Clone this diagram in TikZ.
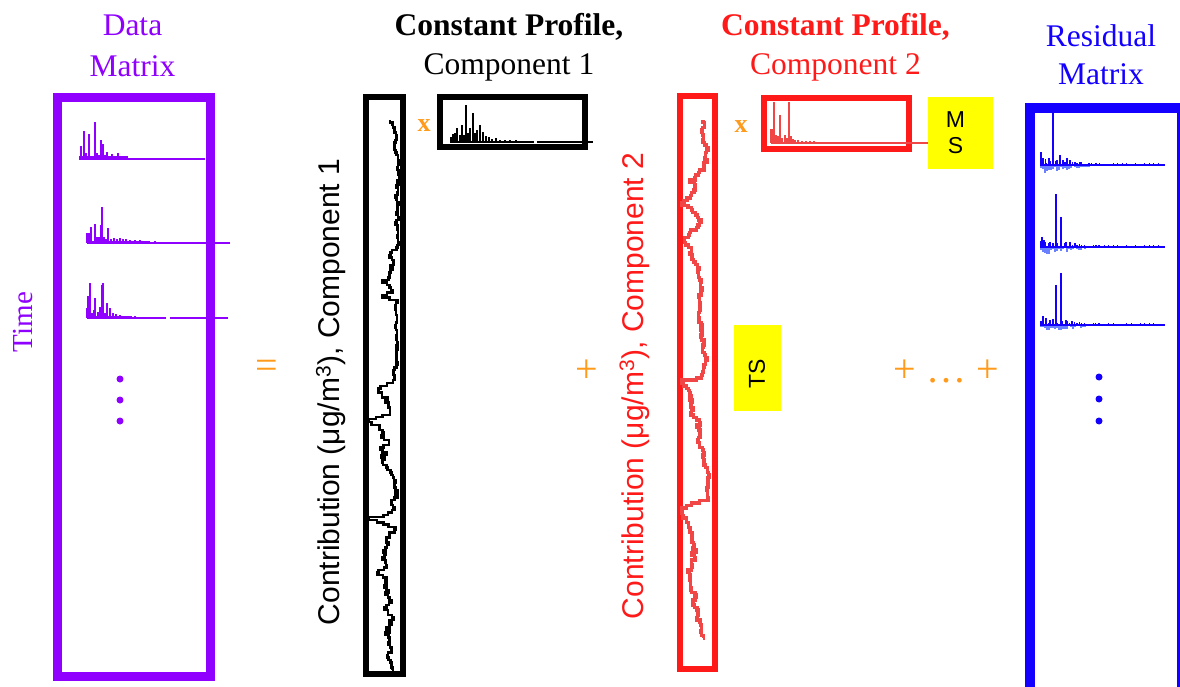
\documentclass[tikz,border=0pt]{standalone}
\usepackage{fontspec}
\setmainfont{Liberation Serif}
\newfontfamily\arialf{Liberation Sans}
\definecolor{vio}{HTML}{8F00FF}
\definecolor{org}{HTML}{FF9A1A}
\definecolor{rd}{HTML}{FF1A1A}
\definecolor{rdl}{HTML}{F04646}
\definecolor{bl}{HTML}{1400FF}
\definecolor{bll}{HTML}{6A80FF}
\definecolor{yel}{HTML}{FFFF00}
\newcommand\drawpeaks[3]{\foreach \u/\v in {#3}{\draw[#1] (\u,#2) -- (\u,\v);}}
% #1 style, #2 x0, #3 y0, #4 list y/x/amp, #5 xmin, #6 xmax
\newcommand\tscurve[6]{%
  \gdef\tspts{}\xdef\tsprevx{#2}\xdef\tsprevy{#3}\gdef\tsnoise{0}%
  \foreach \yy/\xx/\aa in {#4}{%
    \pgfmathtruncatemacro\tsn{max(1,round(abs(\yy-\tsprevy)/2.5))}%
    \foreach \kk in {1,...,\tsn}{%
      \pgfmathsetmacro\tsY{\tsprevy+(\yy-\tsprevy)*\kk/\tsn}%
      \pgfmathsetmacro\tsNN{0.55*\tsnoise+\aa*rand}%
      \xdef\tsnoise{\tsNN}%
      \pgfmathsetmacro\tsX{max(#5,min(#6,\tsprevx+(\xx-\tsprevx)*\kk/\tsn+\tsNN))}%
      \xdef\tspts{\tspts |- (\tsX,\tsY)}%
    }%
    \xdef\tsprevx{\xx}\xdef\tsprevy{\yy}%
  }%
  \edef\tscmd{\noexpand\draw[#1] (#2,#3) \tspts;}\tscmd
}
\newcommand\bluespec[2]{%
  \foreach \i in {0,...,24}{\pgfmathsetmacro\dd{(2+7*rnd)*(1-\i/30)}\draw[bll,line width=1.3pt] ({1041+\i*2},#1) -- ++(0,\dd);}%
  \foreach \i in {0,...,26}{\pgfmathsetmacro\dd{(1+6*rnd)*(1-\i/32)}\draw[bl,line width=1.1pt] ({1041+\i*2.4},#1) -- ++(0,-\dd);}%
  \foreach \i in {0,...,14}{\draw[bl,line width=1pt] ({1095+\i*4.5},#1) -- ++(0,{-1-1.5*rnd});}%
  \draw[bl,line width=1.3pt] (1040,#1) -- (1165,#1);
  \drawpeaks{bl,line width=1.6pt}{#1}{#2}%
}
\begin{document}
\begin{tikzpicture}[x=1pt,y=-1pt,
  ttl/.style={anchor=base, inner sep=0pt, font=\fontsize{31.5}{38}\selectfont},
  vlab/.style={rotate=90, inner sep=0pt, font=\arialf\fontsize{30}{36}\selectfont},
  op/.style={text=org, inner sep=0pt, font=\fontsize{40}{48}\selectfont},
  mult/.style={text=org, inner sep=0pt, font=\bfseries\fontsize{26}{30}\selectfont},
  ylw/.style={fill=yel, draw=none, inner sep=0pt, anchor=north west},
  ytxt/.style={inner sep=0pt, font=\arialf\fontsize{23}{26}\selectfont},
  box/.style={line width=6pt},
  tsblack/.style={black, line width=2.6pt},
  tsred/.style={rdl, line width=3.2pt}]
\useasboundingbox (0,0) rectangle (1180,687);
\clip (0,0) rectangle (1180,687);
\fill[white] (0,0) rectangle (1180,687);

% titles
\node[ttl, text=vio] (t1a) at (132.5,36) {Data};
\node[ttl, text=vio] (t1b) at (132.5,77) {Matrix};
\node[ttl, font=\bfseries\fontsize{31.5}{38}\selectfont] (t2a) at (509,36) {Constant Profile,};
\node[ttl] (t2b) at (509,75) {Component 1};
\node[ttl, text=rd, font=\bfseries\fontsize{31.5}{38}\selectfont] (t3a) at (835.5,36) {Constant Profile,};
\node[ttl, text=rd] (t3b) at (835.5,75) {Component 2};
\node[ttl, text=bl] (t4a) at (1101,47) {Residual};
\node[ttl, text=bl] (t4b) at (1101,85) {Matrix};

% data matrix
\draw[vio, line width=9pt] (57.5,97.5) rectangle (210.5,676);
\node[rotate=90, inner sep=0pt, text=vio, font=\fontsize{29}{34}\selectfont] (time) at (23,322) {Time};
\fill[vio] (79,159) rectangle (128,156.5);
\draw[vio, line width=1.4pt] (79,159) -- (205,159);
\drawpeaks{vio,line width=2pt}{159}{81/146,84/131,86/153,89/134,92/156,95/122,97/153,99/155,101/140,103/144,105/155,107/152,110/156,112/154,115/156,118/153,121/156,124/157,127/156}
\fill[vio] (87,243) rectangle (150,240.5);
\draw[vio, line width=1.4pt] (87,243) -- (230,243);
\drawpeaks{vio,line width=2pt}{243}{87/233,89/233,91/227,95/224,97/237,99/237,101/225,102/207,104/237,106/239,108/228,111/239,114/238,117/239,120/238,123/239,126/239,130/240,135/240,140/240,145/241,155/241}
\fill[vio] (87,318) rectangle (132,315.5);
\draw[vio, line width=1.4pt] (87,318) -- (166,318) (170,318) -- (228,318);
\drawpeaks{vio,line width=2pt}{318}{87/308,88/296,90/283,92/313,94/310,95/298,98/312,100/307,102/285,103/283,105/313,107/303,110/308,113/313,116/314,120/315,125/316,130/316,135/316}
\foreach \yy in {379,400,421}{\fill[vio] (120,\yy) circle (3.5);}

% operators
\node[op] (eq) at (267,369) {=};
\node[op] (pl1) at (587,371) {+};
\node[op] (pl2) at (946,371) {+ … +};
\node[mult] (x1) at (424,126) {x};
\node[mult] (x2) at (741,127) {x};

% component 1
\node[vlab] (lab1) at (331,392) {Contribution (μg/m\textsuperscript{3}), Component 1};
\draw[black, box] (366,97.5) rectangle (403,674);
\pgfmathsetseed{11}
\tscurve{tsblack}{390}{120}{125/392/2, 135/397/1.5, 150/396/2, 175/397/2, 200/396/2, 225/398/2, 245/396/2, 260/390/4, 270/386/5, 280/384/5, 290/390/4, 295/380/1, 300/395/2, 320/397/1.5, 340/396/1, 360/397/1.5, 380/394/2, 386/380/1, 395/386/4, 405/390/4, 415/384/4, 419/369/0, 425/382/4, 440/387/4, 455/384/4, 470/389/4, 480/395/2, 495/396/2, 510/391/3, 515/383/1, 517/369/0, 520/378/1, 527/394/2, 535/387/4, 550/383/4, 570/381/4, 590/387/4, 610/391/4, 625/387/4, 640/385/4, 655/389/3, 670/393/1}{369}{399}
\draw[black, box] (440,97.5) rectangle (585,147);
\draw[black, line width=1.2pt] (450,142) -- (534,142) (537,142) -- (593,142);
\drawpeaks{black,line width=1.8pt}{142}{451/137,453/134,455/133,457/128,460/135,462/125,464/135,466/105,468/133,470/128,473/113,475/133,477/130,480/125,483/132,486/136,489/137,492/139,496/138,500/140,505/140,510/140,516/140}

% component 2
\node[vlab, text=rd] (lab2) at (634.5,386) {Contribution (μg/m\textsuperscript{3}), Component 2};
\draw[rd, box] (679.5,96) rectangle (714.5,669);
\pgfmathsetseed{5}
\tscurve{tsred}{703}{120}{125/704/1.5, 140/706/2, 160/707/2, 170/700/3, 180/690/3, 190/698/4, 198/688/3, 203/682/1, 210/692/4, 220/700/3, 230/690/4, 240/683/2, 250/690/3, 262/696/3, 275/699/2, 290/702/2, 300/697/2, 315/699/2, 330/702/2, 345/704/2, 360/707/2, 372/705/2, 378/698/1, 380/682/0, 386/686/2, 400/690/3, 420/696/3, 440/700/3, 460/705/2, 480/708/1.5, 498/707/1.5, 503/692/2, 508/682/1, 518/685/2, 530/690/3, 550/694/3, 570/689/3, 590/693/3, 610/697/3, 625/701/2, 638/703/1}{682}{710}
\draw[rd, box] (764,98) rectangle (908.5,149.5);
\draw[rdl, line width=1.2pt] (771,143) -- (928,143);
\drawpeaks{rdl,line width=1.8pt}{143}{771/129,773/129,774/102,776/135,778/136,780/115,782/138,785/135,787/138,789/102,791/136,793/139,795/140,798/140,802/141,806/141,810/141,814/141}

% yellow labels
\node[ylw, minimum width=65, minimum height=72] (ms) at (928,97) {};
\node[ytxt, anchor=base] (msm) at (955.5,128) {M};
\node[ytxt, anchor=base] (mss) at (955.5,154) {S};
\node[ylw, minimum width=47, minimum height=86] (ts) at (734,325) {};
\node[ytxt, rotate=90] (tst) at (757,374) {TS};

% residual
\draw[bl, line width=10pt] (1029.5,108.5) rectangle (1182,700);
\pgfmathsetseed{3}
\bluespec{165}{1041/152,1043/158,1046/163,1049/158,1053/113,1057/160,1060/155,1063/160,1067/158,1070/160,1075/162,1080/162}
\bluespec{247}{1042/237,1044/240,1050/242,1056/194,1061/217,1066/242,1070/242,1075/243}
\bluespec{325}{1043/316,1046/318,1050/320,1056/285,1061/273,1066/320,1072/321}
\foreach \yy in {377,399,421}{\fill[bl] (1099,\yy) circle (3.5);}
\end{tikzpicture}
\end{document}
